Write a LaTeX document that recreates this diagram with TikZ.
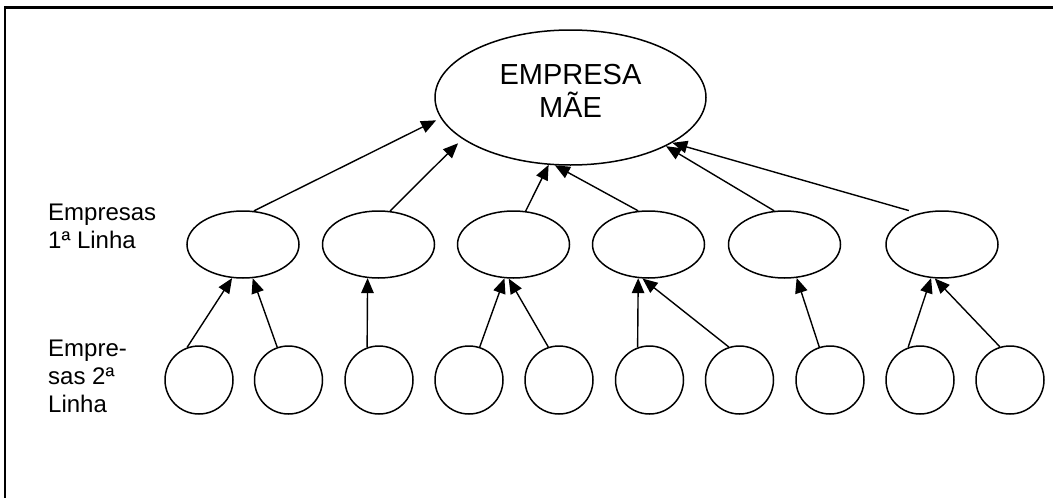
\documentclass[tikz,border=0pt]{standalone}
\usepackage{fontspec}
\setmainfont{Liberation Sans}
\usetikzlibrary{arrows.meta,shapes.geometric}

\begin{document}
\begin{tikzpicture}[x=1pt,y=-1pt,
  frame/.style={line width=2.2pt},
  link/.style={line width=1.4pt,-{Triangle[length=15pt,width=12.5pt]}},
  mother/.style={ellipse,draw,line width=1.5pt,minimum width=271pt,minimum height=135pt,
    inner sep=0pt,align=center,font=\fontsize{29}{33}\selectfont,text depth=13pt},
  first/.style={ellipse,draw,line width=1.5pt,minimum width=112pt,minimum height=67pt,inner sep=0pt},
  second/.style={circle,draw,line width=1.5pt,minimum size=68pt,inner sep=0pt},
  lbl/.style={anchor=north west,inner sep=0pt,align=left,font=\fontsize{24}{28}\selectfont}]

\useasboundingbox (0,0) rectangle (1053,498);
% page frame (top and left edges)
\draw[frame] (5,498) |- (1053,7.5);

% parent company
\node[mother] (top) at (570.5,97.5) {EMPRESA\\MÃE};

% first-line companies
\foreach \x [count=\i] in {243,378.5,513.5,648.5,784.5,942}
  \node[first] (m\i) at (\x,244.5) {};

% second-line companies
\foreach \x [count=\i] in {199,288.5,379,469,559,649.5,739.5,830,920,1010}
  \node[second] (c\i) at (\x,380) {};

% row labels
\node[lbl] (l1) at (48,204) {Empresas\\1ª Linha};
\node[lbl] (l2) at (48,340) {Empre-\\sas 2ª\\Linha};

% second line -> first line
\draw[link] (c1.110) -- (m1.252);
\draw[link] (c2.109) -- (m1.286);
\draw[link] (c3.110) -- (m2.252);
\draw[link] (c4.72) -- (m3.255);
\draw[link] (c5.108) -- (m3.262);
\draw[link] (c6.110) -- (m4.253);
\draw[link] (c7.108) -- (m4.260);
\draw[link] (c8.108) -- (m5.290);
\draw[link] (c9.110) -- (m6.252);
\draw[link] (c10.107) -- (m6.258);

% first line -> parent
\draw[link,shorten >=5pt] (m1.72) -- (top.189);
\draw[link,shorten >=6pt] (m2.71) -- (top.201);
\draw[link] (m3.70) -- (top.252);
\draw[link] (m4.107) -- (top.257);
\draw[link] (m5.107) -- (top.333);
\draw[link,shorten <=10pt] (m6.127) -- (top.336);
\end{tikzpicture}
\end{document}
